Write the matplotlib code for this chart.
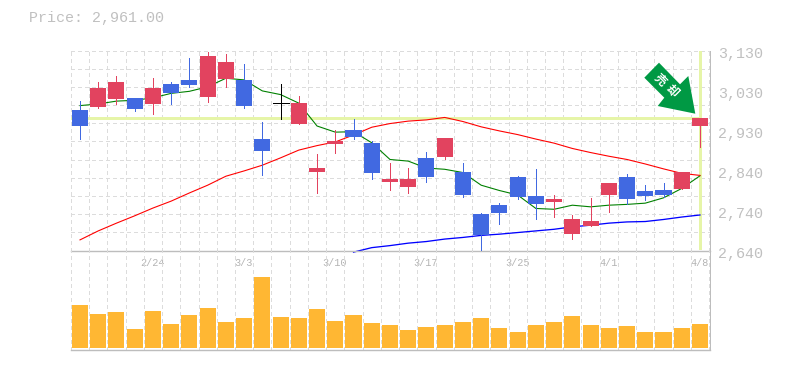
#import
import numpy as np
import matplotlib
matplotlib.use('Agg')
import matplotlib.pyplot as plt
from matplotlib.patches import Polygon
from matplotlib.transforms import ScaledTranslation, IdentityTransform

plt.rcParams['font.family'] = ['Liberation Mono', 'Noto Sans CJK JP', 'DejaVu Sans']

#----------------------------------------------------------------------------------------
#Data

band_level = 2964 # height of the pale band as drawn, the title says 2,961

opens  = [2984, 2992, 3011, 3014, 2999, 3048, 3058, 3016, 3060, 3058,
          2913, 3001, 2950, 2832, 2901, 2935, 2903, 2808, 2796, 2867,
          2869, 2832, 2729, 2751, 2820, 2773, 2759, 2680, 2700, 2776,
          2820, 2786, 2788, 2791, 2945]
closes = [2945, 3038, 3053, 2987, 3038, 3026, 3045, 3117, 3102, 2994,
          2884, 3001, 3001, 2842, 2908, 2918, 2830, 2815, 2815, 2820,
          2916, 2776, 2678, 2732, 2771, 2754, 2766, 2717, 2712, 2805,
          2766, 2773, 2776, 2832, 2965]
highs  = [3006, 3053, 3068, 3014, 3063, 3053, 3112, 3126, 3121, 3097,
          2955, 3048, 3018, 2876, 2935, 2962, 2908, 2854, 2842, 2881,
          2916, 2854, 2732, 2756, 2823, 2840, 2776, 2727, 2768, 2805,
          2827, 2800, 2805, 2832, 2965]
lows   = [2913, 2989, 2999, 2982, 2974, 2999, 3041, 3004, 3041, 2989,
          2825, 2962, 2950, 2781, 2879, 2913, 2815, 2788, 2781, 2808,
          2864, 2771, 2641, 2705, 2766, 2717, 2722, 2668, 2700, 2734,
          2754, 2764, 2771, 2791, 2893]

ma_short = [2995, 2999, 3006, 3008, 3014, 3025, 3030, 3041, 3062, 3058,
            3031, 3022, 3001, 2945, 2930, 2931, 2904, 2863, 2859, 2842,
            2839, 2831, 2800, 2787, 2776, 2743, 2741, 2751, 2747, 2751,
            2753, 2756, 2769, 2792, 2823]
ma_mid   = [2666, 2688, 2707, 2725, 2744, 2761, 2781, 2800, 2822, 2835,
            2849, 2867, 2886, 2897, 2906, 2923, 2942, 2951, 2957, 2960,
            2966, 2956, 2943, 2933, 2924, 2913, 2903, 2890, 2880, 2871,
            2863, 2852, 2840, 2829, 2824]
ma_long  = [np.nan]*15 + [2636, 2647, 2652, 2658, 2662, 2668, 2672, 2677, 2680, 2684,
                          2688, 2692, 2698, 2702, 2707, 2710, 2711, 2716, 2722, 2727]

volumes = [43, 34, 36, 19, 37, 24, 33, 40, 26, 30,
           71, 31, 30, 39, 27, 33, 25, 23, 18, 21,
           23, 26, 30, 20, 16, 23, 26, 32, 23, 20,
           22, 16, 16, 20, 24]

date_idx = [4, 9, 14, 19, 24, 29, 34]
date_labels = ['2/24', '3/3', '3/10', '3/17', '3/25', '4/1', '4/8']
price_ticks = [3130, 3032, 2934, 2836, 2738, 2640]
price_labels = ['3,130', '3,030', '2,930', '2,840', '2,740', '2,640']

#----------------------------------------------------------------------------------------
#Control panel

W, H = 785, 370
RedColor = '#e2435f'
BlueColor = '#4169e1'
BarColor = '#ffb733'
BandColor = '#e6f5a8'
GridColor = '#dcdcdc'
AxisColor = '#bdbdbd'
TextColor = '#c0c0c0'
DateColor = '#b4b4b4'
ArrowColor = '#009944'
px = 0.72  # 1 pixel in points

x = np.arange(len(opens))
xlim = (-0.521, 34.55)
body_w = 0.88
grid_x = np.arange(len(opens) + 1) - 0.5

def axes_rect(left, top, right, bottom):
    return [left/W, 1 - bottom/H, (right-left)/W, (bottom-top)/H]

fig = plt.figure(figsize=(W/100, H/100), dpi=100, facecolor='white')
ax = fig.add_axes(axes_rect(70.5, 50.5, 710, 250.5))
ax2 = fig.add_axes(axes_rect(70.5, 250.5, 710, 350.3))

#----------------------------------------------------------------------------------------
#Price pane

ax.set_xlim(*xlim)
ax.set_ylim(2640, 3130)
ax.set_axisbelow(True)
for s in ['left', 'top']:
    ax.spines[s].set_visible(False)
ax.spines['right'].set_color(AxisColor)
ax.spines['bottom'].set_color(AxisColor)
ax.spines['right'].set_linewidth(px)
ax.spines['bottom'].set_linewidth(1.4*px)

# grid lines on the major ticks, labels on the minor ones (they sit at other places)
ax.xaxis.remove_overlapping_locs = False
ax.yaxis.remove_overlapping_locs = False
ax.set_xticks(grid_x)
ax.set_xticklabels([])
ax.set_yticks(np.linspace(2640, 3130, 12))
ax.set_yticklabels([])
ax.grid(True, color=GridColor, lw=px, ls=(0, (3, 3)), antialiased=False)
ax.tick_params(which='major', length=0)

ax.set_xticks(date_idx, date_labels, minor=True)
ax.set_yticks(price_ticks, price_labels, minor=True)
ax.yaxis.tick_right()
ax.tick_params(which='minor', length=0, colors=TextColor)
ax.tick_params(axis='x', which='minor', labelsize=7.3, pad=5.7, colors=DateColor)
ax.tick_params(axis='y', which='minor', labelsize=10.8, pad=6)
for lab in ax.get_yticklabels(minor=True):
    lab.set_transform(lab.get_transform() + ScaledTranslation(0, -2/100, fig.dpi_scale_trans))
for lab in ax.get_xticklabels(minor=True):
    lab.set_transform(lab.get_transform() + ScaledTranslation(-0.5/100, 0, fig.dpi_scale_trans))

ax.axhline(band_level, color=BandColor, lw=3*px, xmax=(34 - xlim[0])/(xlim[1] - xlim[0]), zorder=1, antialiased=False)
ax.axvline(34, color=BandColor, lw=3*px, ymin=0.012, zorder=1, antialiased=False)

ax.plot(x, ma_short, color='green', lw=px*1.1, zorder=2)
ax.plot(x, ma_mid, color='red', lw=px*1.1, zorder=2)
ax.plot(x, ma_long, color='blue', lw=px*1.3, zorder=2, clip_on=False)

for i in x:
    o, c = opens[i], closes[i]
    if o == c:
        col = 'black'
        ax.hlines(o, i - body_w/2, i + body_w/2, color=col, lw=px, zorder=3, antialiased=False)
    else:
        col = RedColor if c > o else BlueColor
        ax.bar(i, abs(c - o), bottom=min(o, c), width=body_w, color=col, lw=0, zorder=3, antialiased=False)
    ax.vlines(i, lows[i], highs[i], color=col, lw=px, zorder=3, antialiased=False)

#----------------------------------------------------------------------------------------
#Volume pane

ax2.set_xlim(*xlim)
ax2.set_ylim(-2, 97.8)
ax2.set_axisbelow(True)
for s in ['left', 'top']:
    ax2.spines[s].set_visible(False)
ax2.spines['right'].set_color(AxisColor)
ax2.spines['bottom'].set_color(AxisColor)
ax2.spines['right'].set_linewidth(px)
ax2.spines['bottom'].set_linewidth(1.4*px)
ax2.patch.set_alpha(0)
ax2.set_xticks(grid_x)
ax2.set_xticklabels([])
ax2.set_yticks([])
ax2.tick_params(length=0)
ax2.grid(True, axis='x', color=GridColor, lw=px, ls=(0, (3, 3)), antialiased=False)
ax2.bar(x, volumes, width=body_w, color=BarColor, lw=0, zorder=3, antialiased=False)

#----------------------------------------------------------------------------------------
#Title and sell arrow (pixel positions, y counted from the top)

fig.text(29/W, 1 - 18/H, 'Price: 2,961.00', color=TextColor, fontsize=10.8, ha='left', va='center')

arrow_px = [(659, 62.7), (644.3, 77.7), (664.3, 97.7), (657.7, 106), (695.3, 113.7), (688.3, 76), (680, 84.3)]
arrow_disp = [(a, H - b) for a, b in arrow_px]
fig.add_artist(Polygon(arrow_disp, closed=True, facecolor=ArrowColor, edgecolor='none', transform=IdentityTransform(), zorder=6))
for ch, cx, cy in [('売', 660, 80), ('却', 671.5, 91)]:
    fig.text(cx/W, 1 - cy/H, ch, color='white', fontsize=8.5, fontweight='bold', rotation=-45,
             rotation_mode='anchor', ha='center', va='center', family=['Noto Sans CJK JP', 'DejaVu Sans'], zorder=7)

plt.savefig('out.png', dpi=100)
